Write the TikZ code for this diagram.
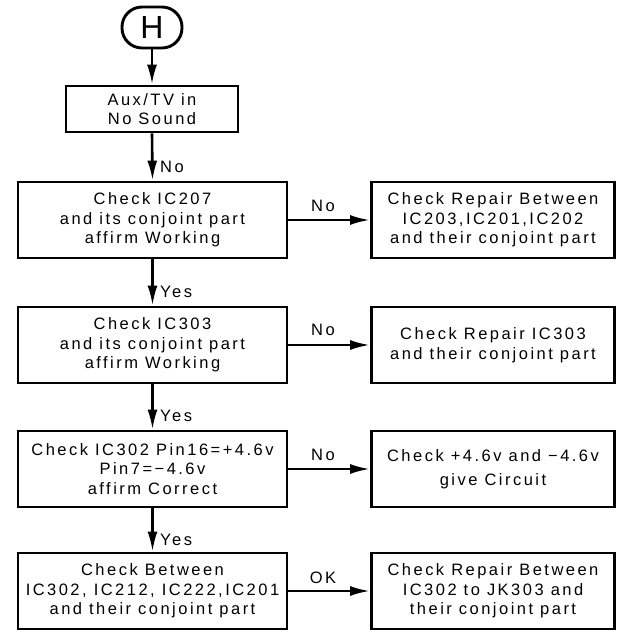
\documentclass[tikz,border=0pt]{standalone}
\usepackage{fontspec}
\setmainfont{Liberation Sans}[LetterSpace=15]
\usetikzlibrary{arrows.meta}
\begin{document}
\begin{tikzpicture}[x=1pt,y=-1pt,
  box/.style={draw,line width=2.9pt,rectangle,align=center,inner sep=0pt,
    font=\fontsize{16.5}{19.5}\selectfont},
  lbox/.style={box,minimum width=269pt,minimum height=76pt},
  rbox/.style={box,minimum width=243pt,minimum height=76pt},
  conn/.style={line width=2.6pt,-{Latex[length=20pt,width=10pt]}},
  lab/.style={font=\fontsize{16.5}{19.5}\selectfont,inner sep=0pt}]
\useasboundingbox (0,0) rectangle (616,636);
\node[draw,line width=2.9pt,rounded corners=20pt,minimum width=60pt,minimum height=41pt,inner sep=0pt,font=\fontsize{32}{32}\selectfont] (H) at (152,27.5) {H};
\node[box,minimum width=172pt,minimum height=46pt] (b1) at (152,109) {Aux/TV in\\No Sound};
\node[lbox] (b2) at (152.5,220) {Check IC207\\and its conjoint part\\affirm Working};
\node[lbox] (b3) at (152.5,345) {Check IC303\\and its conjoint part\\affirm Working};
\node[lbox] (b4) at (152.5,469) {Check IC302 Pin16=+4.6v\\Pin7=−4.6v\\affirm Correct};
\node[lbox] (b5) at (152.5,591) {Check Between\\IC302, IC212, IC222,IC201\\and their conjoint part};
\node[rbox] (r2) at (493,220) {Check Repair Between\\IC203,IC201,IC202\\and their conjoint part};
\node[rbox] (r3) at (493,345) {Check Repair IC303\\and their conjoint part};
\node[rbox] (r4) at (493,469) {Check +4.6v and −4.6v\\[5pt]give Circuit};
\node[rbox] (r5) at (493,591) {Check Repair Between\\IC302 to JK303 and\\their conjoint part};
\draw[conn] (H.south) -- (b1.north);
\draw[conn] (b1.south) -- (b2.north);
\draw[conn] (b2.south) -- (b3.north);
\draw[conn] (b3.south) -- (b4.north);
\draw[conn] (b4.south) -- (b5.north);
\draw[conn] (b2.east) -- (r2.west);
\draw[conn] (b3.east) -- (r3.west);
\draw[conn] (b4.east) -- (r4.west);
\draw[conn] (b5.east) -- (r5.west);
\node[lab,anchor=west] (l1) at (160,167) {No};
\node[lab,anchor=west] (l2) at (160,292) {Yes};
\node[lab,anchor=west] (l3) at (160,416) {Yes};
\node[lab,anchor=west] (l4) at (160,540) {Yes};
\node[lab] (h2) at (323,206) {No};
\node[lab] (h3) at (323,330) {No};
\node[lab] (h4) at (323,455) {No};
\node[lab] (h5) at (323,578) {OK};
\end{tikzpicture}
\end{document}
